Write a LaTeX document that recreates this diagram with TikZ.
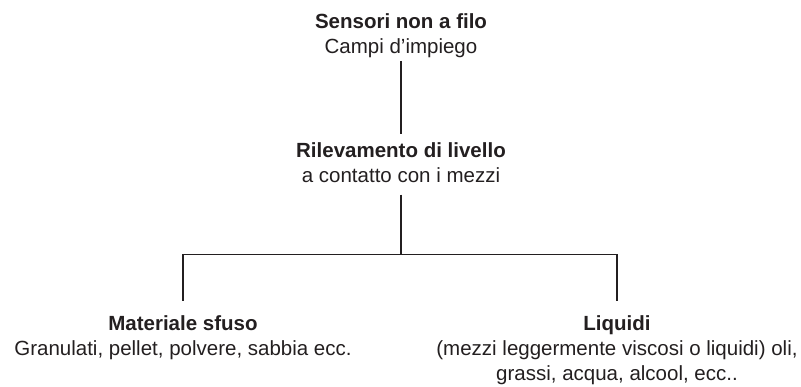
\documentclass[tikz,border=0pt]{standalone}
\usepackage{fontspec}
\setmainfont{Liberation Sans}
\usepackage{xcolor}
\usetikzlibrary{positioning}
\definecolor{ink}{HTML}{231F20}

\begin{document}
\begin{tikzpicture}[
    x=1pt, y=1pt,
    block/.style={align=center, inner sep=0pt, text=ink, font=\fontsize{20.5}{25}\selectfont},
    link/.style={draw=ink, line width=1.1pt}
]
\useasboundingbox (0,0) rectangle (801,-387);

% Top of the tree
\node[block, anchor=north] (sensori) at (401,-13.7) {\textbf{Sensori non a filo}\\Campi d’impiego};
\node[block, below=84pt of sensori] (rilevamento) {\textbf{Rilevamento di livello}\\a contatto con i mezzi};

% Branch point
\coordinate[below=72pt of rilevamento] (split);

% Leaves
\node[block, below=61pt of split, xshift=-218pt] (sfuso) {\textbf{Materiale sfuso}\\Granulati, pellet, polvere, sabbia ecc.};
\node[block, below=61pt of split, xshift=216pt] (liquidi) {\textbf{Liquidi}\\(mezzi leggermente viscosi o liquidi) oli,\\grassi, acqua, alcool, ecc..};

% Connectors
\draw[link, shorten <=2.6pt, shorten >=8.7pt] (sensori) -- (rilevamento);
\draw[link, shorten <=12pt] (rilevamento) -- (split);
\draw[link, shorten >=15pt] (split) -| (sfuso);
\draw[link, shorten >=15pt] (split) -| (liquidi);

\end{tikzpicture}
\end{document}
